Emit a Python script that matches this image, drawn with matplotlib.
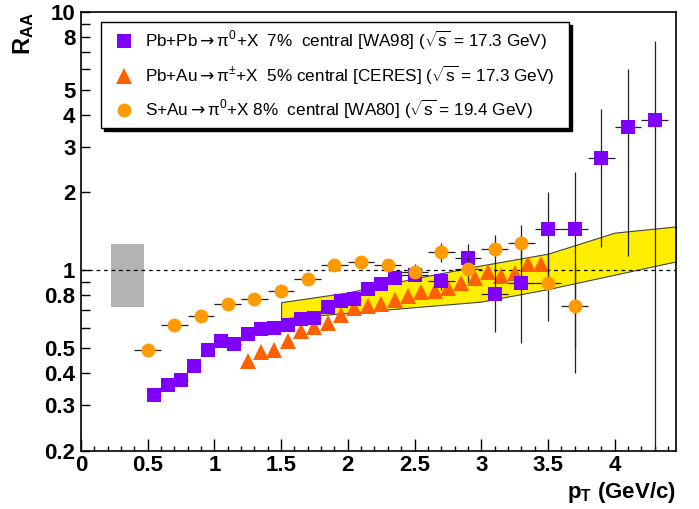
import numpy as np
import matplotlib
matplotlib.use('Agg')
import matplotlib.pyplot as plt
from matplotlib.lines import Line2D
from matplotlib.patches import Rectangle

plt.rcParams['font.family'] = ['Liberation Sans', 'DejaVu Sans']
plt.rcParams['mathtext.fontset'] = 'custom'
plt.rcParams['mathtext.rm'] = 'Liberation Sans'
plt.rcParams['mathtext.it'] = 'Liberation Sans:italic'
plt.rcParams['mathtext.bf'] = 'Liberation Sans:bold'
plt.rcParams['mathtext.sf'] = 'DejaVu Sans'

# WA98 Pb+Pb -> pi0, 7% central
wa98_pt = [0.55, 0.65, 0.75, 0.85, 0.95, 1.05, 1.15, 1.25, 1.35, 1.45, 1.55, 1.65,
           1.75, 1.85, 1.95, 2.05, 2.15, 2.25, 2.35, 2.5, 2.7, 2.9, 3.1, 3.3,
           3.5, 3.7, 3.9, 4.1, 4.3]
wa98_raa = [0.330, 0.360, 0.376, 0.426, 0.489, 0.534, 0.519, 0.564, 0.593, 0.598,
            0.611, 0.649, 0.652, 0.719, 0.757, 0.775, 0.848, 0.881, 0.935, 0.955,
            0.905, 1.118, 0.811, 0.894, 1.449, 1.449, 2.72, 3.59, 3.81]
wa98_err = [0.01, 0.01, 0.01, 0.01, 0.01, 0.01, 0.01, 0.01, 0.01, 0.01,
            0.01, 0.01, 0.01, 0.02, 0.02, 0.02, 0.02, 0.03, 0.03, 0.05,
            0.07, 0.15, 0.236, 0.37, 0.56, 0.95, 1.49, 2.45, 3.93]
wa98_dpt = [0.05] * 19 + [0.1] * 10

# CERES Pb+Au -> pi+-, 5% central
ceres_pt = [1.25, 1.35, 1.45, 1.55, 1.65, 1.75, 1.85, 1.95, 2.05, 2.15, 2.25, 2.35,
            2.45, 2.55, 2.65, 2.75, 2.85, 2.95, 3.05, 3.15, 3.25, 3.35, 3.45]
ceres_raa = [0.446, 0.481, 0.489, 0.530, 0.580, 0.602, 0.627, 0.668, 0.713, 0.724,
             0.741, 0.770, 0.794, 0.822, 0.830, 0.855, 0.891, 0.935, 0.983, 0.946,
             0.974, 1.053, 1.053]

# WA80 S+Au -> pi0, 8% central
wa80_pt = [0.5, 0.7, 0.9, 1.1, 1.3, 1.5, 1.7, 1.9, 2.1, 2.3, 2.5, 2.7, 2.9, 3.1,
           3.3, 3.5, 3.7]
wa80_raa = [0.489, 0.615, 0.662, 0.737, 0.775, 0.830, 0.927, 1.044, 1.079, 1.051,
            0.983, 1.175, 1.014, 1.204, 1.278, 0.894, 0.730]
wa80_err = [0.02, 0.02, 0.02, 0.02, 0.02, 0.02, 0.03, 0.03, 0.04, 0.05, 0.074,
            0.097, 0.115, 0.16, 0.22, 0.26, 0.33]
wa80_dpt = [0.1] * 17

# calculation band
band_pt = [1.5, 2.0, 2.5, 3.0, 3.5, 4.0, 4.46]
band_lo = [0.650, 0.684, 0.719, 0.756, 0.845, 0.961, 1.082]
band_hi = [0.752, 0.820, 0.930, 1.044, 1.159, 1.398, 1.478]

# normalisation uncertainty box
norm_pt = [0.225, 0.475]
norm_raa = [0.72, 1.26]

c_wa98 = '#7f00ff'
c_ceres = '#ff6000'
c_wa80 = '#ff9a00'

fig = plt.figure(figsize=(6.99, 5.09), dpi=100)
ax = fig.add_axes([81 / 699, 58.3 / 509, 595 / 699, 438.7 / 509])
ax.set_yscale('log')
ax.set_xlim(0, 4.46)
ax.set_ylim(0.2, 10)

ax.fill_between(band_pt, band_lo, band_hi, facecolor='#ffee00',
                edgecolor='#444444', linewidth=0.8, zorder=1)
ax.add_patch(Rectangle((norm_pt[0], norm_raa[0]), norm_pt[1] - norm_pt[0],
                       norm_raa[1] - norm_raa[0], facecolor='#b3b3b3',
                       edgecolor='none', zorder=1))
ax.axhline(1, color='black', linestyle=(0, (3, 3)), linewidth=0.9, zorder=2)


def asym(y, e):
    y = np.asarray(y, dtype=float)
    e = np.asarray(e, dtype=float)
    return [np.minimum(e, y * 0.95), e]


eb = dict(ecolor='#222222', elinewidth=0.9, capsize=1.6, capthick=0.9,
          linestyle='none')

ax.plot(ceres_pt, ceres_raa, '^', color=c_ceres, markersize=11,
        markeredgewidth=0, zorder=3)
ax.errorbar(wa98_pt, wa98_raa, yerr=asym(wa98_raa, wa98_err), xerr=wa98_dpt,
            fmt='s', color=c_wa98, markersize=10, markeredgewidth=0, zorder=4, **eb)
ax.errorbar(wa80_pt, wa80_raa, yerr=asym(wa80_raa, wa80_err), xerr=wa80_dpt,
            fmt='o', color=c_wa80, markersize=10, markeredgewidth=0, zorder=5, **eb)

# axes: ticks inside, bottom and left only
yt = [0.2, 0.3, 0.4, 0.5, 0.6, 0.7, 0.8, 0.9, 1, 2, 3, 4, 5, 6, 7, 8, 9, 10]
yl = ['0.2', '0.3', '0.4', '0.5', '', '', '0.8', '', '1', '2', '3', '4', '5',
      '', '', '8', '', '10']
ax.set_yticks(yt)
ax.set_yticklabels(yl)
ax.yaxis.set_minor_locator(matplotlib.ticker.NullLocator())
ax.set_xticks(np.arange(0, 4.01, 0.5))
ax.set_xticklabels(['0', '0.5', '1', '1.5', '2', '2.5', '3', '3.5', '4'])
ax.set_xticks(np.arange(0, 4.46, 0.1), minor=True)
ax.tick_params(axis='y', which='both', direction='in', length=6.5, width=1,
               right=False, labelsize=16, pad=4)
ax.tick_params(axis='x', which='major', direction='in', length=8.5, width=1,
               top=False, labelsize=16, pad=3)
ax.tick_params(axis='x', which='minor', direction='in', length=3.6, width=1,
               top=False)
for lab in ax.get_xticklabels() + ax.get_yticklabels():
    lab.set_fontweight('bold')
for sp in ax.spines.values():
    sp.set_linewidth(1.2)

ax.set_xlabel(r'p$_{\mathbf{T}}$ (GeV/c)', fontsize=16, fontweight='bold',
              loc='right', labelpad=3)
ax.set_ylabel(r'$\mathbf{R}_{\mathbf{AA}}$', fontsize=17, loc='top', labelpad=6)

handles = [
    Line2D([], [], marker='s', color=c_wa98, linestyle='none', markersize=10,
           markeredgewidth=0),
    Line2D([], [], marker='^', color=c_ceres, linestyle='none', markersize=11,
           markeredgewidth=0),
    Line2D([], [], marker='o', color=c_wa80, linestyle='none', markersize=10,
           markeredgewidth=0),
]
arrow = '$\\mathsf{\\rightarrow}$'
labels = [
    'Pb+Pb' + arrow + 'π$^{0}$+X  7%  central [WA98] ($\\sqrt{\\mathrm{s}}$ = 17.3 GeV)',
    'Pb+Au' + arrow + 'π$^{\\pm}$+X  5% central [CERES] ($\\sqrt{\\mathrm{s}}$ = 17.3 GeV)',
    'S+Au' + arrow + 'π$^{0}$+X 8%  central [WA80] ($\\sqrt{\\mathrm{s}}$ = 19.4 GeV)',
]
leg = ax.legend(handles, labels, loc='upper left',
                bbox_to_anchor=(0.0336, 0.7356, 0.7866, 0.2414), mode='expand',
                borderaxespad=0, fontsize=12.3, frameon=True, fancybox=False,
                shadow={'color': 'black', 'alpha': 1}, labelspacing=0.66,
                handletextpad=0.35, handlelength=1.8, borderpad=0.42)
leg.get_frame().set_edgecolor('black')
leg.get_frame().set_linewidth(1.0)
leg.set_zorder(10)

fig.savefig('out.png', dpi=100)
